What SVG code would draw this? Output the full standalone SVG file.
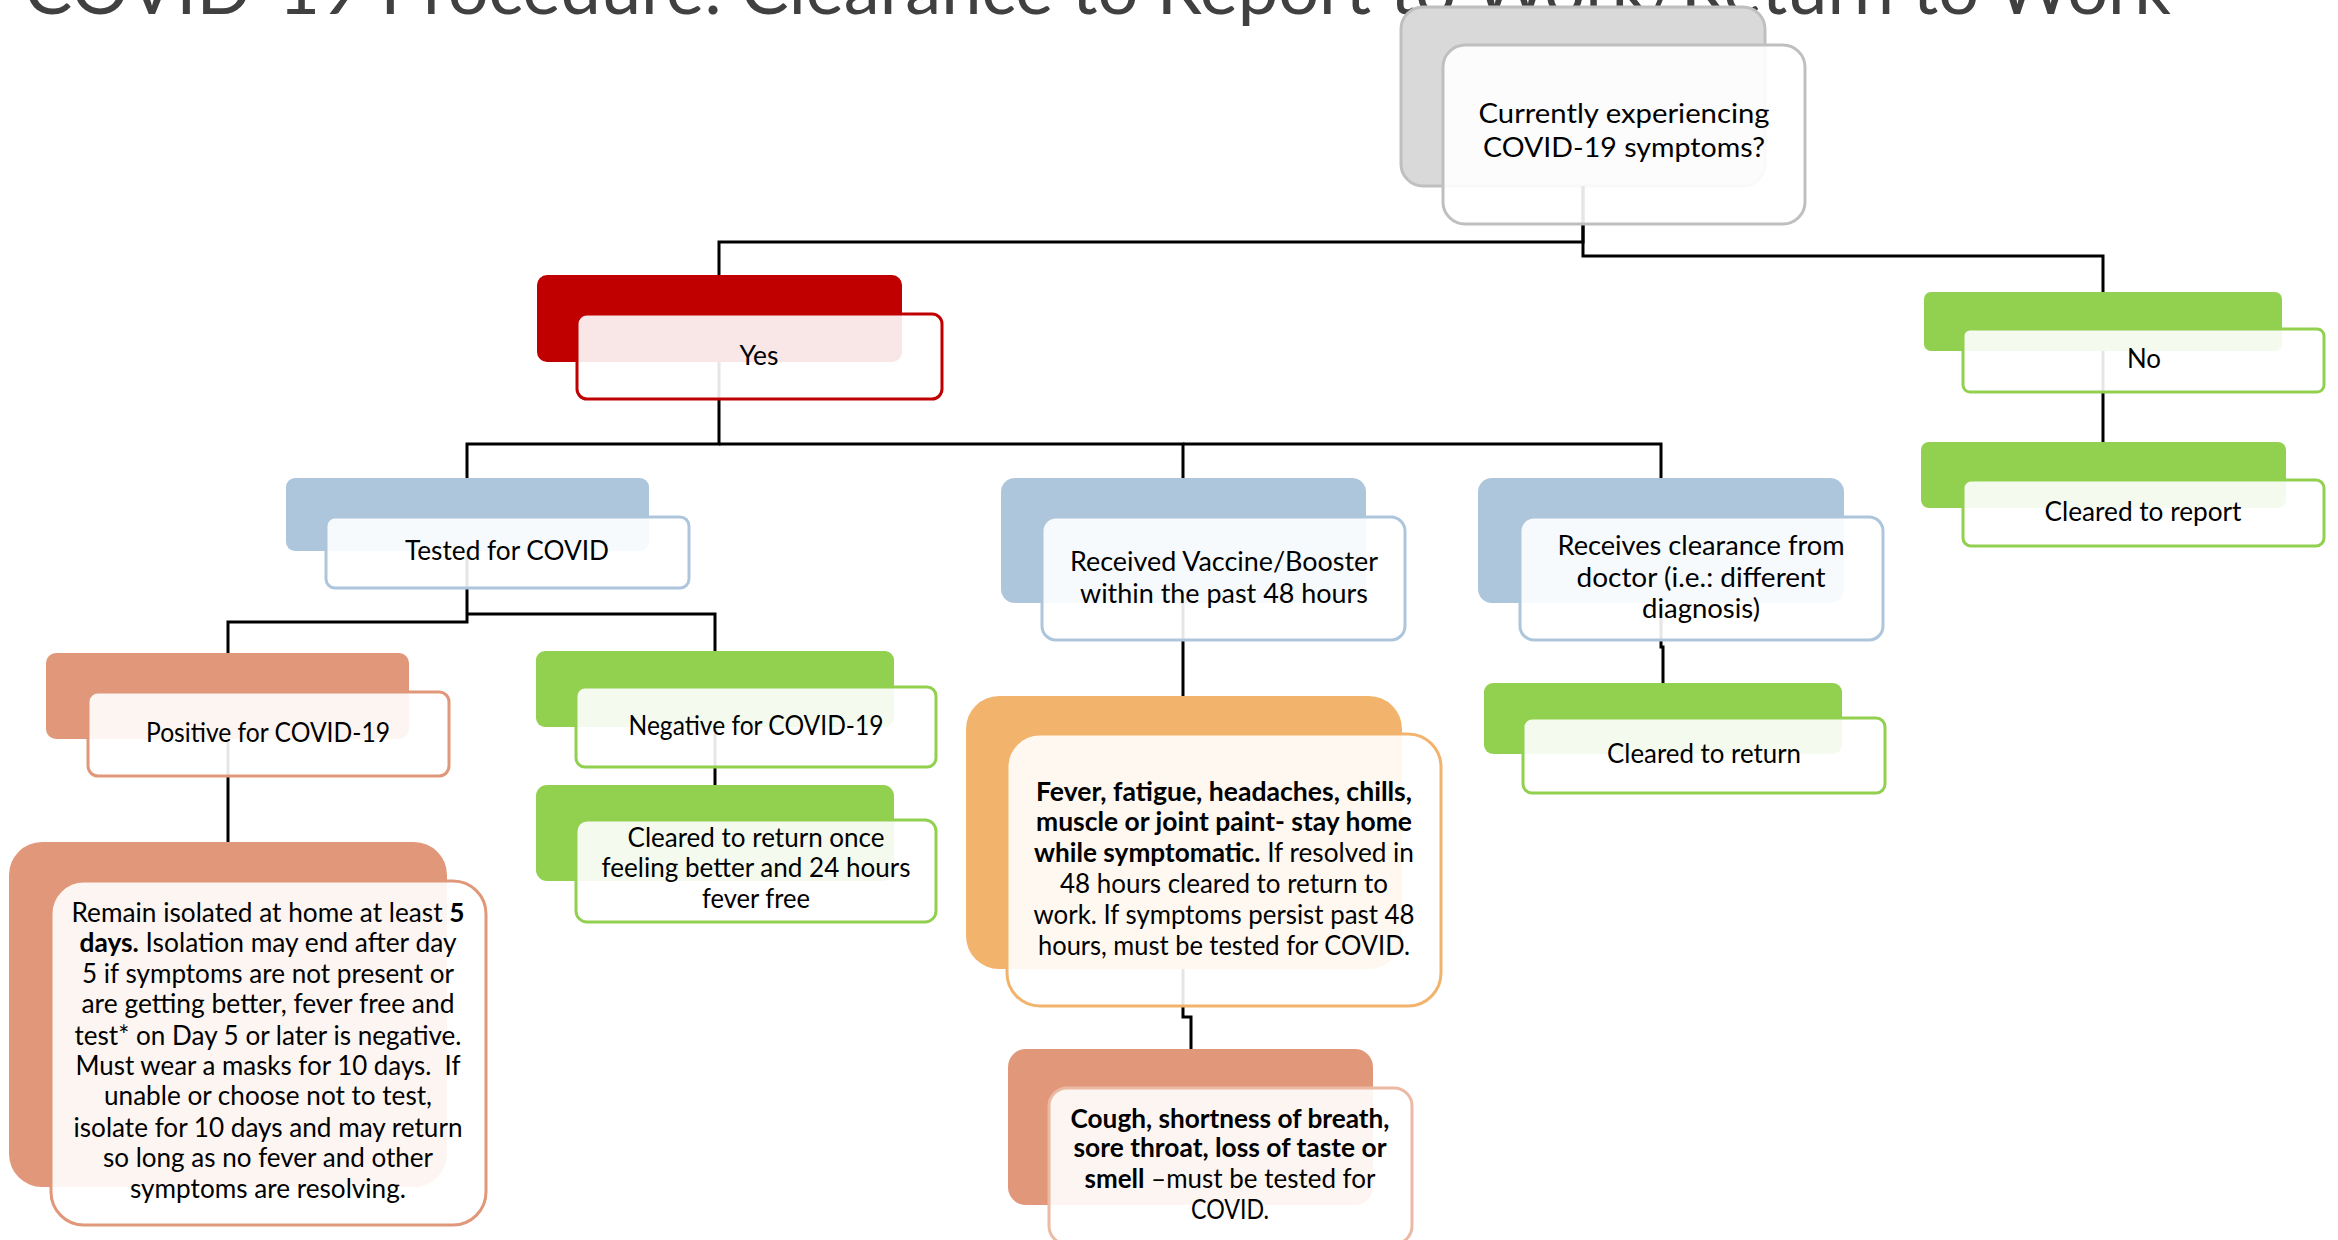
<svg xmlns="http://www.w3.org/2000/svg" width="2338" height="1240" viewBox="0 0 2338 1240">
<style>
.title{font-family:Lato,'Liberation Sans',sans-serif;font-size:72px;fill:#404040}
.t{font-family:Lato,'Liberation Sans',sans-serif;font-size:26px;fill:#000;text-anchor:middle}
.b{font-weight:700}
.ln{fill:none;stroke:#000;stroke-width:3}
.fr{fill:#fff;fill-opacity:0.9;stroke-width:3}
.gray{fill:#D9D9D9;stroke:#BFBFBF;stroke-width:3}
.red{fill:#C00000}
.blue{fill:#ADC6DB}
.green{fill:#92D050}
.salmon{fill:#E0977A}
.orange{fill:#F2B46D}
.sg{stroke:#BFBFBF}.sr{stroke:#C00000}.sb{stroke:#ADC6DB}.sgr{stroke:#92D050}.ss{stroke:#E0977A}.so{stroke:#F2B46D}.sc{stroke:#EBB9A4}
</style>
<rect width="2338" height="1240" fill="#fff"/>
<text class="title" x="24" y="14" textLength="2147" lengthAdjust="spacingAndGlyphs">COVID-19 Procedure: Clearance to Report to Work/Return to Work</text>

<g id="backs">
<rect class="gray" x="1401" y="7" width="364" height="179" rx="22"/>
<rect class="red" x="537" y="275" width="365" height="87" rx="10"/>
<rect class="green" x="1924" y="292" width="358" height="59" rx="7"/>
<rect class="green" x="1921" y="442" width="365" height="66" rx="8"/>
<rect class="blue" x="286" y="478" width="363" height="73" rx="9"/>
<rect class="blue" x="1001" y="478" width="365" height="125" rx="14"/>
<rect class="blue" x="1478" y="478" width="366" height="125" rx="14"/>
<rect class="salmon" x="46" y="653" width="363" height="86" rx="10"/>
<rect class="green" x="536" y="651" width="358" height="76" rx="9"/>
<rect class="green" x="536" y="785" width="358" height="96" rx="11"/>
<rect class="green" x="1484" y="683" width="358" height="71" rx="9"/>
<rect class="salmon" x="9" y="842" width="438" height="345" rx="33"/>
<rect class="orange" x="966" y="696" width="436" height="273" rx="33"/>
<rect class="salmon" x="1008" y="1049" width="365" height="156" rx="18"/>
</g>

<g id="connectors">
<path class="ln" d="M1583,186 V242 H719 V275"/>
<path class="ln" d="M1583,186 V256 H2103 V292"/>
<path class="ln" d="M719,362 V444 H467 V478"/>
<path class="ln" d="M719,444 H1183 V478"/>
<path class="ln" d="M1183,444 H1661 V478"/>
<path class="ln" d="M467,551 V622 H228 V653"/>
<path class="ln" d="M467,614 H715 V651"/>
<path class="ln" d="M228,739 V842"/>
<path class="ln" d="M715,727 V785"/>
<path class="ln" d="M1183,603 V696"/>
<path class="ln" d="M1183,969 V1017 H1191 V1049"/>
<path class="ln" d="M1661,603 V647 H1663 V683"/>
<path class="ln" d="M2103,351 V442"/>
</g>

<g id="root">
<rect class="fr sg" x="1443" y="45" width="362" height="179" rx="22"/>
<text class="t" x="1624" y="123" textLength="291" lengthAdjust="spacingAndGlyphs">Currently experiencing</text>
<text class="t" x="1624" y="157" textLength="282" lengthAdjust="spacingAndGlyphs">COVID-19 symptoms?</text>
</g>

<g id="yes">
<rect class="fr sr" x="577" y="314" width="365" height="85" rx="10"/>
<text class="t" x="759" y="365" textLength="39" lengthAdjust="spacingAndGlyphs">Yes</text>
</g>

<g id="no">
<rect class="fr sgr" x="1963" y="329" width="361" height="63" rx="7"/>
<text class="t" x="2144" y="368" textLength="34" lengthAdjust="spacingAndGlyphs">No</text>
</g>

<g id="cleared-report">
<rect class="fr sgr" x="1963" y="480" width="361" height="66" rx="8"/>
<text class="t" x="2143" y="521" textLength="197" lengthAdjust="spacingAndGlyphs">Cleared to report</text>
</g>

<g id="tested">
<rect class="fr sb" x="326" y="517" width="363" height="71" rx="9"/>
<text class="t" x="507" y="560" textLength="204" lengthAdjust="spacingAndGlyphs">Tested for COVID</text>
</g>

<g id="vaccine">
<rect class="fr sb" x="1042" y="517" width="363" height="123" rx="14"/>
<text class="t" x="1224" y="571" textLength="308" lengthAdjust="spacingAndGlyphs">Received Vaccine/Booster</text>
<text class="t" x="1224" y="603" textLength="288" lengthAdjust="spacingAndGlyphs">within the past 48 hours</text>
</g>

<g id="doctor">
<rect class="fr sb" x="1520" y="517" width="363" height="123" rx="14"/>
<text class="t" x="1701" y="555" textLength="287" lengthAdjust="spacingAndGlyphs">Receives clearance from</text>
<text class="t" x="1701" y="587" textLength="249" lengthAdjust="spacingAndGlyphs">doctor (i.e.: different</text>
<text class="t" x="1701" y="618" textLength="118" lengthAdjust="spacingAndGlyphs">diagnosis)</text>
</g>

<g id="positive">
<rect class="fr ss" x="88" y="692" width="361" height="84" rx="10"/>
<text class="t" x="268" y="742" textLength="244" lengthAdjust="spacingAndGlyphs">Positive for COVID-19</text>
</g>

<g id="negative">
<rect class="fr sgr" x="576" y="687" width="360" height="80" rx="9"/>
<text class="t" x="756" y="735" textLength="255" lengthAdjust="spacingAndGlyphs">Negative for COVID-19</text>
</g>

<g id="cleared-once">
<rect class="fr sgr" x="576" y="820" width="360" height="102" rx="11"/>
<text class="t" x="756" y="847" textLength="257" lengthAdjust="spacingAndGlyphs">Cleared to return once</text>
<text class="t" x="756" y="877" textLength="309" lengthAdjust="spacingAndGlyphs">feeling better and 24 hours</text>
<text class="t" x="756" y="908" textLength="108" lengthAdjust="spacingAndGlyphs">fever free</text>
</g>

<g id="cleared-return">
<rect class="fr sgr" x="1523" y="718" width="362" height="75" rx="9"/>
<text class="t" x="1704" y="763" textLength="194" lengthAdjust="spacingAndGlyphs">Cleared to return</text>
</g>

<g id="isolate">
<rect class="fr ss" x="51" y="881" width="435" height="344" rx="33"/>
<text class="t" x="268" y="922" textLength="393" lengthAdjust="spacingAndGlyphs">Remain isolated at home at least <tspan class="b">5</tspan></text>
<text class="t" x="268" y="952" textLength="377" lengthAdjust="spacingAndGlyphs"><tspan class="b">days.</tspan> Isolation may end after day</text>
<text class="t" x="268" y="983" textLength="372" lengthAdjust="spacingAndGlyphs">5 if symptoms are not present or</text>
<text class="t" x="268" y="1013" textLength="373" lengthAdjust="spacingAndGlyphs">are getting better, fever free and</text>
<text class="t" x="268" y="1045" textLength="387" lengthAdjust="spacingAndGlyphs">test* on Day 5 or later is negative.</text>
<text class="t" x="268" y="1075" textLength="385" lengthAdjust="spacingAndGlyphs" xml:space="preserve">Must wear a masks for 10 days.  If</text>
<text class="t" x="268" y="1105" textLength="328" lengthAdjust="spacingAndGlyphs">unable or choose not to test,</text>
<text class="t" x="268" y="1137" textLength="389" lengthAdjust="spacingAndGlyphs">isolate for 10 days and may return</text>
<text class="t" x="268" y="1167" textLength="330" lengthAdjust="spacingAndGlyphs">so long as no fever and other</text>
<text class="t" x="268" y="1198" textLength="276" lengthAdjust="spacingAndGlyphs">symptoms are resolving.</text>
</g>

<g id="fever">
<rect class="fr so" x="1007" y="734" width="434" height="272" rx="33"/>
<text class="t b" x="1224" y="801" textLength="376" lengthAdjust="spacingAndGlyphs">Fever, fatigue, headaches, chills,</text>
<text class="t b" x="1224" y="831" textLength="376" lengthAdjust="spacingAndGlyphs">muscle or joint paint- stay home</text>
<text class="t" x="1224" y="862" textLength="380" lengthAdjust="spacingAndGlyphs"><tspan class="b">while symptomatic.</tspan> If resolved in</text>
<text class="t" x="1224" y="893" textLength="328" lengthAdjust="spacingAndGlyphs">48 hours cleared to return to</text>
<text class="t" x="1224" y="924" textLength="381" lengthAdjust="spacingAndGlyphs">work. If symptoms persist past 48</text>
<text class="t" x="1224" y="955" textLength="372" lengthAdjust="spacingAndGlyphs">hours, must be tested for COVID.</text>
</g>

<g id="cough">
<rect class="fr sc" x="1049" y="1088" width="363" height="156" rx="18"/>
<text class="t b" x="1230" y="1128" textLength="319" lengthAdjust="spacingAndGlyphs">Cough, shortness of breath,</text>
<text class="t b" x="1230" y="1157" textLength="313" lengthAdjust="spacingAndGlyphs">sore throat, loss of taste or</text>
<text class="t" x="1230" y="1188" textLength="291" lengthAdjust="spacingAndGlyphs"><tspan class="b">smell</tspan> –must be tested for</text>
<text class="t" x="1230" y="1219" textLength="78" lengthAdjust="spacingAndGlyphs">COVID.</text>
</g>
</svg>
